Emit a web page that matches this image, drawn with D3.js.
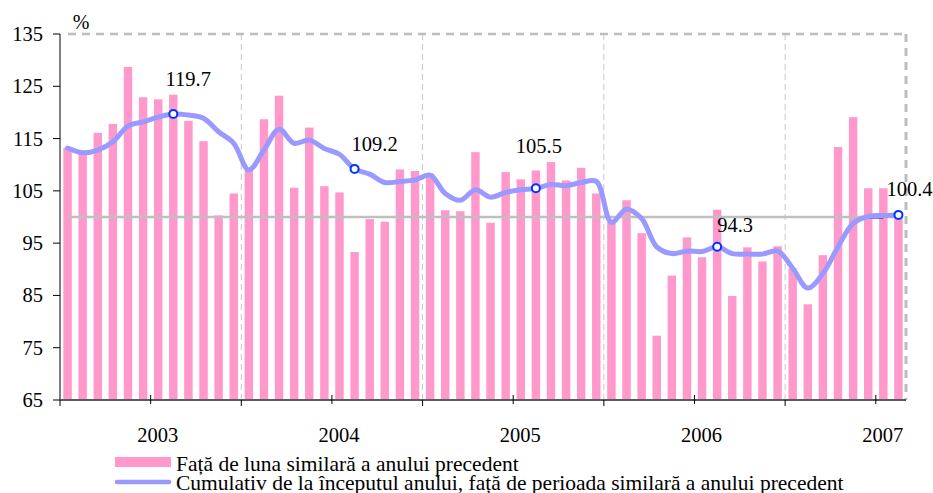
<!DOCTYPE html>
<html>
<head>
<meta charset="utf-8">
<script src="https://cdn.jsdelivr.net/npm/d3@7"></script>
<style>
  body { margin: 0; background: #fff; }
</style>
</head>
<body>
<div id="chart"></div>
<script>
// monthly data, Jan 2003 .. Aug 2007
var years = [2003, 2004, 2005, 2006, 2007];
var monthly = [
  113.2, 112.3, 116.1, 117.8, 128.7, 122.9, 122.5, 123.4, 118.4, 114.5, 100.3, 104.5,
  109.0, 118.7, 123.2, 105.6, 117.1, 105.9, 104.7, 93.3, 99.6, 99.1, 109.1, 108.8,
  108.3, 101.3, 101.1, 112.4, 98.9, 108.6, 107.2, 108.9, 110.5, 107.0, 109.4, 104.5,
  99.0, 103.2, 96.9, 77.3, 88.8, 96.1, 92.3, 101.4, 84.9, 94.2, 91.5, 94.4,
  90.2, 83.3, 92.7, 113.4, 119.1, 105.5, 105.5, 100.6
];
var cumulative = [
  113.2, 112.3, 112.8, 114.4, 117.4, 118.2, 119.1, 119.7, 119.5, 118.9, 116.3, 114.1,
  109.0, 112.8, 116.8, 114.1, 114.7, 113.1, 112.0, 109.2, 108.2, 106.6, 106.8, 107.1,
  108.0, 104.5, 103.2, 105.2, 103.8, 104.7, 105.2, 105.5, 106.2, 106.0, 106.6, 106.8,
  99.0, 101.5, 99.7, 94.3, 93.0, 93.5, 93.4, 94.3, 93.0, 92.9, 92.9, 93.5,
  90.2, 86.4, 89.2, 94.3, 98.8, 100.1, 100.3, 100.4
];
var yTicks = [65, 75, 85, 95, 105, 115, 125, 135];
var markedIdx = [7, 19, 31, 43, 55];          // August of each year
var labelDx = [15, 20, 3, 18, 11];
var labelDy = [-28, -18, -35, -15, -19];
var legendLabels = [
  "Față de luna similară a anului precedent",
  "Cumulativ de la începutul anului, față de perioada similară a anului precedent"
];

var width = 933, height = 493;
var pLeft = 60, pRight = 906, pTop = 34, pBottom = 400;
var serif = "'Liberation Serif', 'DejaVu Serif', 'Times New Roman', serif";

var svg = d3.select("#chart").append("svg")
  .attr("width", width).attr("height", height)
  .style("font-family", serif);

var months = d3.range(monthly.length);
var x = d3.scaleBand().domain(months).range([pLeft, pRight]).paddingInner(0.44).paddingOuter(0.22);
var y = d3.scaleLinear().domain([65, 135]).range([pBottom, pTop]);
var step = x.step();
function cx(i) { return x(i) + x.bandwidth() / 2; }
// start of each year on the axis
function yearStart(k) { return pLeft + k * 12 * (pRight - pLeft) / monthly.length; }

// bars
svg.append("g").selectAll("rect")
  .data(monthly).enter().append("rect")
  .attr("x", function (d, i) { return x(i); })
  .attr("y", function (d) { return y(d); })
  .attr("width", x.bandwidth())
  .attr("height", function (d) { return pBottom - y(d); })
  .attr("fill", "#ff99cc");

// year separators
svg.append("g").selectAll("line")
  .data(years.slice(1)).enter().append("line")
  .attr("x1", function (d, k) { return yearStart(k + 1); })
  .attr("x2", function (d, k) { return yearStart(k + 1); })
  .attr("y1", pTop).attr("y2", pBottom)
  .attr("stroke", "#c8c8c8").attr("stroke-width", 1).attr("stroke-dasharray", "6,4");

// top and right dashed border
svg.append("line").attr("x1", pLeft + 8).attr("x2", pRight).attr("y1", pTop).attr("y2", pTop)
  .attr("stroke", "#bdbdbd").attr("stroke-width", 2.5).attr("stroke-dasharray", "8,6");
svg.append("line").attr("x1", pRight).attr("x2", pRight).attr("y1", pTop).attr("y2", pBottom)
  .attr("stroke", "#bdbdbd").attr("stroke-width", 3).attr("stroke-dasharray", "8,6");

// 100 reference line
svg.append("line")
  .attr("x1", cx(0)).attr("x2", cx(monthly.length - 1))
  .attr("y1", y(100)).attr("y2", y(100))
  .attr("stroke", "#bfbfbf").attr("stroke-width", 2.5);
svg.append("line")
  .attr("x1", cx(53)).attr("x2", cx(54))
  .attr("y1", y(100)).attr("y2", y(100))
  .attr("stroke", "#0000cc").attr("stroke-width", 3);

// cumulative line
var line = d3.line()
  .x(function (d, i) { return cx(i); })
  .y(function (d) { return y(d); })
  .curve(d3.curveCatmullRom.alpha(0.5));
svg.append("path")
  .datum(cumulative)
  .attr("d", line)
  .attr("fill", "none")
  .attr("stroke", "#9999ff")
  .attr("stroke-width", 5)
  .attr("stroke-linecap", "round")
  .attr("stroke-linejoin", "round");

// markers + labels
svg.append("g").selectAll("circle")
  .data(markedIdx).enter().append("circle")
  .attr("cx", function (i) { return cx(i); })
  .attr("cy", function (i) { return y(cumulative[i]); })
  .attr("r", 4)
  .attr("fill", "#fff").attr("stroke", "#0033ff").attr("stroke-width", 2);
svg.append("g").selectAll("text")
  .data(markedIdx).enter().append("text")
  .attr("x", function (i, k) { return cx(i) + labelDx[k]; })
  .attr("y", function (i, k) { return y(cumulative[i]) + labelDy[k]; })
  .attr("text-anchor", "middle")
  .style("font-size", "20.5px")
  .text(function (i) { return cumulative[i].toFixed(1); });

// y axis
svg.append("line").attr("x1", pLeft).attr("x2", pLeft).attr("y1", pTop).attr("y2", pBottom)
  .attr("stroke", "#000").attr("stroke-width", 1);
var yg = svg.append("g");
yg.selectAll("line").data(yTicks).enter().append("line")
  .attr("x1", pLeft - 7).attr("x2", pLeft)
  .attr("y1", function (d) { return y(d); }).attr("y2", function (d) { return y(d); })
  .attr("stroke", "#000");
yg.selectAll("text").data(yTicks).enter().append("text")
  .attr("x", 43).attr("y", function (d) { return y(d) + 7; })
  .attr("text-anchor", "end")
  .style("font-size", "20.5px")
  .text(function (d) { return d; });
svg.append("text").attr("x", 81).attr("y", 29).attr("text-anchor", "middle")
  .style("font-size", "20px").text("%");

// x axis
svg.append("line").attr("x1", pLeft).attr("x2", pRight).attr("y1", pBottom).attr("y2", pBottom)
  .attr("stroke", "#5a5a5a").attr("stroke-width", 2);
var xg = svg.append("g");
years.forEach(function (yr, k) {
  var mid = yearStart(k) + 6 * step;
  xg.append("line").attr("x1", mid).attr("x2", mid).attr("y1", pBottom - 5).attr("y2", pBottom + 4)
    .attr("stroke", "#000");
  xg.append("line").attr("x1", yearStart(k)).attr("x2", yearStart(k)).attr("y1", pBottom).attr("y2", pBottom + 6)
    .attr("stroke", "#000");
  xg.append("text").attr("x", mid + 7).attr("y", 442)
    .attr("text-anchor", "middle").style("font-size", "20.5px").text(yr);
});

// legend
var lg = svg.append("g");
lg.append("rect").attr("x", 115).attr("y", 457).attr("width", 56).attr("height", 10).attr("fill", "#ff99cc");
lg.append("line").attr("x1", 117).attr("x2", 169).attr("y1", 482).attr("y2", 482)
  .attr("stroke", "#9999ff").attr("stroke-width", 4.5).attr("stroke-linecap", "round");
lg.selectAll("text").data(legendLabels).enter().append("text")
  .attr("x", 176).attr("y", function (d, i) { return 471 + i * 19; })
  .style("font-size", "21.5px")
  .text(function (d) { return d; });
</script>
</body>
</html>
